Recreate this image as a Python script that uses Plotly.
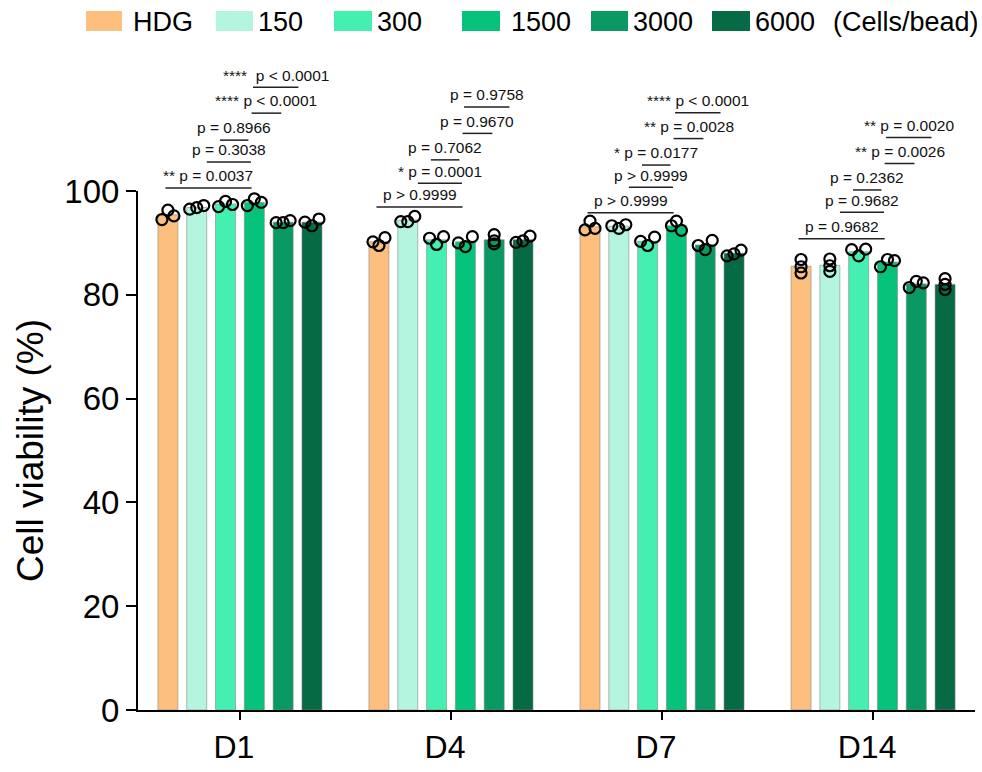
import plotly.graph_objects as go

# ---------------- data ----------------
days = ["D1", "D4", "D7", "D14"]
series_names = ["HDG", "150", "300", "1500", "3000", "6000"]

# bar heights (mean viability %), one list per series, one value per day
mean_hdg = [95.4, 90.2, 93.1, 85.5]
mean_150 = [96.8, 94.4, 93.2, 85.7]
mean_300 = [97.5, 90.6, 90.3, 88.3]
mean_1500 = [97.8, 90.2, 93.3, 86.3]
mean_3000 = [94.0, 90.6, 89.6, 82.1]
mean_6000 = [94.0, 90.6, 88.0, 82.0]

# replicate points (left, middle, right) per day
rep_hdg = [[94.5, 96.3, 95.2], [90.2, 89.5, 91.0], [92.5, 94.2, 92.8], [86.8, 85.4, 84.2]]
rep_150 = [[96.5, 96.8, 97.2], [94.1, 94.1, 95.1], [93.3, 92.8, 93.5], [86.9, 85.6, 84.5]]
rep_300 = [[97.0, 98.0, 97.4], [90.9, 89.7, 91.2], [90.3, 89.5, 91.1], [88.7, 87.5, 88.8]]
rep_1500 = [[97.2, 98.5, 97.8], [90.0, 89.3, 91.2], [93.3, 94.2, 92.4], [85.4, 86.8, 86.6]]
rep_3000 = [[93.9, 93.9, 94.3], [91.6, 90.4, 89.8], [89.5, 88.7, 90.5], [81.4, 82.6, 82.3]]
rep_6000 = [[94.0, 93.3, 94.6], [90.1, 90.4, 91.3], [87.5, 87.9, 88.6], [83.1, 82.0, 81.0]]

# p-value labels per day (bottom to top)
p_labels = {
    "D1": ["** p = 0.0037", "p = 0.3038", "p = 0.8966", "**** p < 0.0001", "****  p < 0.0001"],
    "D4": ["p > 0.9999", "* p = 0.0001", "p = 0.7062", "p = 0.9670", "p = 0.9758"],
    "D7": ["p > 0.9999", "p > 0.9999", "* p = 0.0177", "** p = 0.0028", "**** p < 0.0001"],
    "D14": ["p = 0.9682", "p = 0.9682", "p = 0.2362", "** p = 0.0026", "** p = 0.0020"],
}
legend_note = "(Cells/bead)"
y_title = "Cell viability (%)"

# ---------------- styles / positions ----------------
colors = ["#FDBF7E", "#B3F5DF", "#45EFB1", "#06C27A", "#0A9963", "#066A44"]
means = [mean_hdg, mean_150, mean_300, mean_1500, mean_3000, mean_6000]
reps = [rep_hdg, rep_150, rep_300, rep_1500, rep_3000, rep_6000]

# horizontal spread of replicate dots (px) per series per day
spread = [
    [6, 6, 5, 0],
    [7, 7, 7, 0],
    [7, 7, 7, 7],
    [7, 7, 5, 7],
    [7, 0, 7, 7],
    [7, 7, 7, 0],
]

W, H = 982, 772
PL, PR, PT, PB = 138, 975, 191, 713
XMIN, XMAX = -0.483, 3.483
BARGAP, GROUPGAP = 0.181, 0.306
slot = (1 - BARGAP) / len(series_names)
px_per_unit = (PR - PL) / (XMAX - XMIN)
FONT = "Liberation Sans, Arial"


def dx2paper(x):
    return (x - XMIN) / (XMAX - XMIN)


def px2paperx(px):
    return (px - PL) / (PR - PL)


def px2papery(py):
    return (PB - py) / (PB - PT)


# bracket x extents relative to group centre (axis units)
bracket_x = [(-0.353, 0.055), (-0.157, 0.052), (-0.095, 0.040), (0.055, 0.196), (0.062, 0.277)]
bracket_y = {
    "D1": [100.6, 105.6, 109.8, 115.0, 120.0],
    "D4": [96.9, 101.5, 106.0, 111.1, 116.2],
    "D7": [95.8, 100.7, 105.0, 110.1, 115.1],
    "D14": [90.8, 95.9, 100.2, 105.3, 110.3],
}
TEXT_LIFT = 2.35

fig = go.Figure()

xs = list(range(len(days)))
for s, name in enumerate(series_names):
    fig.add_trace(go.Bar(
        x=xs, y=means[s], name=name, showlegend=False,
        marker=dict(color=colors[s], line=dict(color="rgba(130,130,130,0.55)", width=1)),
    ))

for s, name in enumerate(series_names):
    px_, py_ = [], []
    for g in range(len(days)):
        centre = g + (s - (len(series_names) - 1) / 2) * slot
        for j, v in enumerate(reps[s][g]):
            px_.append(centre + (j - 1) * spread[s][g] / px_per_unit)
            py_.append(v)
    fig.add_trace(go.Scatter(
        x=px_, y=py_, mode="markers", showlegend=False, cliponaxis=False,
        marker=dict(symbol="circle-open", size=11, color="black", line=dict(width=2.2)),
        hoverinfo="skip",
    ))

shapes = []
annotations = []
for g, d in enumerate(days):
    for k, lab in enumerate(p_labels[d]):
        x0 = g + bracket_x[k][0]
        x1 = g + bracket_x[k][1]
        yv = bracket_y[d][k]
        shapes.append(dict(type="line", xref="paper", yref="paper",
                           x0=dx2paper(x0), x1=dx2paper(x1), y0=yv / 100, y1=yv / 100,
                           line=dict(color="#222222", width=1.5)))
        annotations.append(dict(text=lab, xref="paper", yref="paper",
                                x=dx2paper((x0 + x1) / 2), y=(yv + TEXT_LIFT) / 100,
                                xanchor="center", yanchor="middle", showarrow=False,
                                font=dict(size=15.5, color="#111111", family=FONT)))

# manual legend (large swatches), pixel coords
legend_sw = [(86, 122), (216, 253), (334, 372), (462, 500), (591, 628), (712, 750)]
legend_tx = [131, 256, 375, 509, 631, 753]
LEG_Y = 21
for s, name in enumerate(series_names):
    shapes.append(dict(type="rect", xref="paper", yref="paper",
                       x0=px2paperx(legend_sw[s][0]), x1=px2paperx(legend_sw[s][1]),
                       y0=px2papery(30), y1=px2papery(10),
                       fillcolor=colors[s], line=dict(width=0)))
    annotations.append(dict(text=name, xref="paper", yref="paper",
                            x=px2paperx(legend_tx[s]), y=px2papery(LEG_Y),
                            xanchor="left", yanchor="middle", showarrow=False,
                            font=dict(size=27, color="black", family=FONT)))
annotations.append(dict(text=legend_note, xref="paper", yref="paper",
                        x=px2paperx(831), y=px2papery(LEG_Y),
                        xanchor="left", yanchor="middle", showarrow=False,
                        font=dict(size=27, color="black", family=FONT)))

fig.update_layout(
    width=W, height=H, autosize=False,
    margin=dict(l=PL, r=W - PR, t=PT, b=H - PB, pad=0),
    paper_bgcolor="white", plot_bgcolor="white",
    barmode="group", bargap=BARGAP, bargroupgap=GROUPGAP,
    shapes=shapes, annotations=annotations,
    font=dict(family=FONT, color="black"),
    xaxis=dict(range=[XMIN, XMAX], tickvals=xs, ticktext=days,
               showline=True, linewidth=2, linecolor="black",
               ticks="outside", ticklen=8, tickwidth=2, tickcolor="black",
               ticklabelshift=-6,
               tickfont=dict(size=32), showgrid=False, zeroline=False),
    yaxis=dict(range=[0, 100], dtick=20, tick0=0,
               showline=True, linewidth=2, linecolor="black",
               ticks="outside", ticklen=10, tickwidth=2, tickcolor="black",
               tickfont=dict(size=33), showgrid=False, zeroline=False,
               title=dict(text=y_title, font=dict(size=37), standoff=9)),
)

fig.write_html("out.html", config={"displayModeBar": False, "staticPlot": True},
               post_script="document.body.style.margin='0';document.body.style.overflow='hidden';")
